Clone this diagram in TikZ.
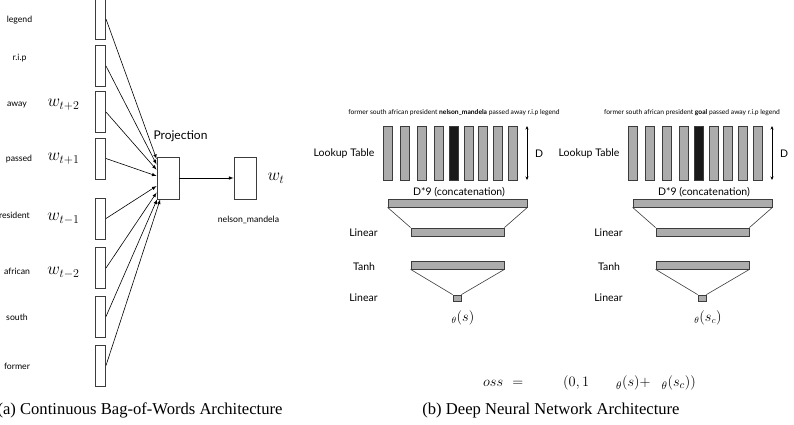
\documentclass[tikz,border=0pt]{standalone}
\usepackage{fontspec}
\setmainfont{Liberation Serif}
\newfontfamily\gill{Lato}
\usepackage{amsmath}
\usetikzlibrary{arrows.meta}
\definecolor{bargray}{RGB}{172,172,172}
\definecolor{edgegray}{RGB}{60,60,60}
\definecolor{hotbar}{RGB}{25,25,25}
\tikzset{
  wordbox/.style={draw=edgegray, line width=0.9pt, minimum width=10.5pt, minimum height=41pt, inner sep=0pt},
  projbox/.style={draw=edgegray, line width=0.9pt, minimum width=22pt, minimum height=42pt, inner sep=0pt},
  vecbar/.style={draw=edgegray, fill=bargray, line width=0.8pt, minimum width=9pt, minimum height=54pt, inner sep=0pt},
  layerbar/.style={draw=edgegray, fill=bargray, line width=0.8pt, inner sep=0pt},
  wordlabel/.style={font=\gill\fontsize{8.7}{10}\selectfont, inner sep=0pt},
  netlabel/.style={font=\gill\fontsize{10.5}{12}\selectfont, inner sep=0pt},
  sentlabel/.style={font=\gill\fontsize{6.7}{7.5}\selectfont, inner sep=0pt},
  mathlabel/.style={font=\fontsize{18.5}{20}\selectfont, inner sep=0pt},
  caption/.style={font=\fontsize{16.6}{18}\selectfont, inner sep=0pt}
}
\begin{document}
\begin{tikzpicture}[x=1pt,y=-1pt]
\useasboundingbox (0,0) rectangle (794,424);
% Continuous Bag-of-Words: context word boxes
\foreach \n/\y/\lx/\ly/\word in {1/19/19.5/20/legend, 2/66/19.5/58/r.i.p, 3/112/17/105/away, 4/158.5/19/159/passed,
    5/218.5/12/216/president, 6/268/17/271/african, 7/316.5/17/317/south, 8/365.5/17/366/former}{
  \node[wordbox] (w\n) at (100.3,\y) {};
  \node[wordlabel] (lw\n) at (\lx,\ly) {\word};
}
% Context positions
\node[mathlabel] (tp2) at (63.5,105) {$w_{t+2}$};
\node[mathlabel] (tp1) at (63.5,159) {$w_{t+1}$};
\node[mathlabel] (tm1) at (63.5,219) {$w_{t-1}$};
\node[mathlabel] (tm2) at (63.5,272.5) {$w_{t-2}$};
% Projection and output
\node[projbox] (proj) at (168,178) {};
\node[font=\gill\fontsize{12}{14}\selectfont, inner sep=0pt] (projlbl) at (180.5,136.5) {Projection};
\node[projbox] (out) at (245,178) {};
\node[mathlabel] (wt) at (276,178) {$w_t$};
\node[wordlabel] (target) at (248.5,219.5) {nelson\_mandela};
% Context to projection
\foreach \n/\a in {1/121,2/130,3/144,4/170,5/215,6/232,7/243,8/250}
  \draw[-latex, line width=0.6pt] (w\n.east) -- (proj.\a);
\draw[-latex, line width=0.6pt] (proj.east) -- (out.west);
% Deep network, true and corrupted window
\foreach \c/\dx/\sx/\word/\score in {a/0/454/nelson\_mandela/{${}_\theta(s)$}, b/245/447/goal/{${}_\theta(s_c)$}}{
  \begin{scope}[xshift=\dx pt]
    \node[sentlabel] (sent\c) at (\sx,113) {former south african president \textbf{\word} passed away r.i.p legend};
    % Lookup table
    \foreach \i/\x in {1/387.5,2/405,3/421.5,4/438.5,5/453.5,6/468.5,7/482.5,8/497.5,9/513}{
      \ifnum\i=5
        \node[vecbar, fill=hotbar] (bar\c\i) at (\x,153) {};
      \else
        \node[vecbar] (bar\c\i) at (\x,153) {};
      \fi
    }
    \coordinate (dtop\c) at (527,126);
    \coordinate (dbot\c) at (527,180);
    \draw[{Stealth[length=3.5pt,width=3pt]}-{Stealth[length=3.5pt,width=3pt]}, line width=0.6pt] (dtop\c) -- (dbot\c);
    \node[netlabel] (dlbl\c) at (539,154) {D};
    \node[netlabel] (lut\c) at (344,154) {Lookup Table};
    % Layers
    \node[netlabel] (catlbl\c) at (459,192) {D*9 (concatenation)};
    \node[layerbar, minimum width=139pt, minimum height=8pt] (cat\c) at (457.5,203) {};
    \node[layerbar, minimum width=93pt, minimum height=8pt] (lin\c) at (457.5,232) {};
    \node[layerbar, minimum width=93pt, minimum height=8pt] (tanh\c) at (457.5,265) {};
    \node[layerbar, minimum width=8pt, minimum height=6pt] (score\c) at (457,298) {};
    \draw[edgegray, line width=0.6pt] (cat\c.south west) -- (lin\c.north west);
    \draw[edgegray, line width=0.6pt] (cat\c.south east) -- (lin\c.north east);
    \draw[edgegray, line width=0.6pt] (tanh\c.south west) -- (score\c.north west);
    \draw[edgegray, line width=0.6pt] (tanh\c.south east) -- (score\c.north east);
    \node[netlabel] (linlbl\c) at (363.5,233) {Linear};
    \node[netlabel] (tanhlbl\c) at (364,266.5) {Tanh};
    \node[netlabel] (outlbl\c) at (363.5,298) {Linear};
    \node[font=\fontsize{13.5}{15}\selectfont, inner sep=0pt] (f\c) at (463,318) {\score};
  \end{scope}
}
% Ranking criterion
\node[font=\fontsize{15}{17}\selectfont, inner sep=0pt, anchor=west] (loss) at (483,383)
  {$oss$\hspace{9pt}$=$\hspace{40pt}$(0,1$\hspace{27pt}${}_\theta(s)+$\hspace{11pt}${}_\theta(s_c))$};
% Captions
\node[caption] (capa) at (140,410) {(a)~Continuous Bag-of-Words Architecture};
\node[caption] (capb) at (551,410) {(b)~Deep Neural Network Architecture};
\end{tikzpicture}
\end{document}
